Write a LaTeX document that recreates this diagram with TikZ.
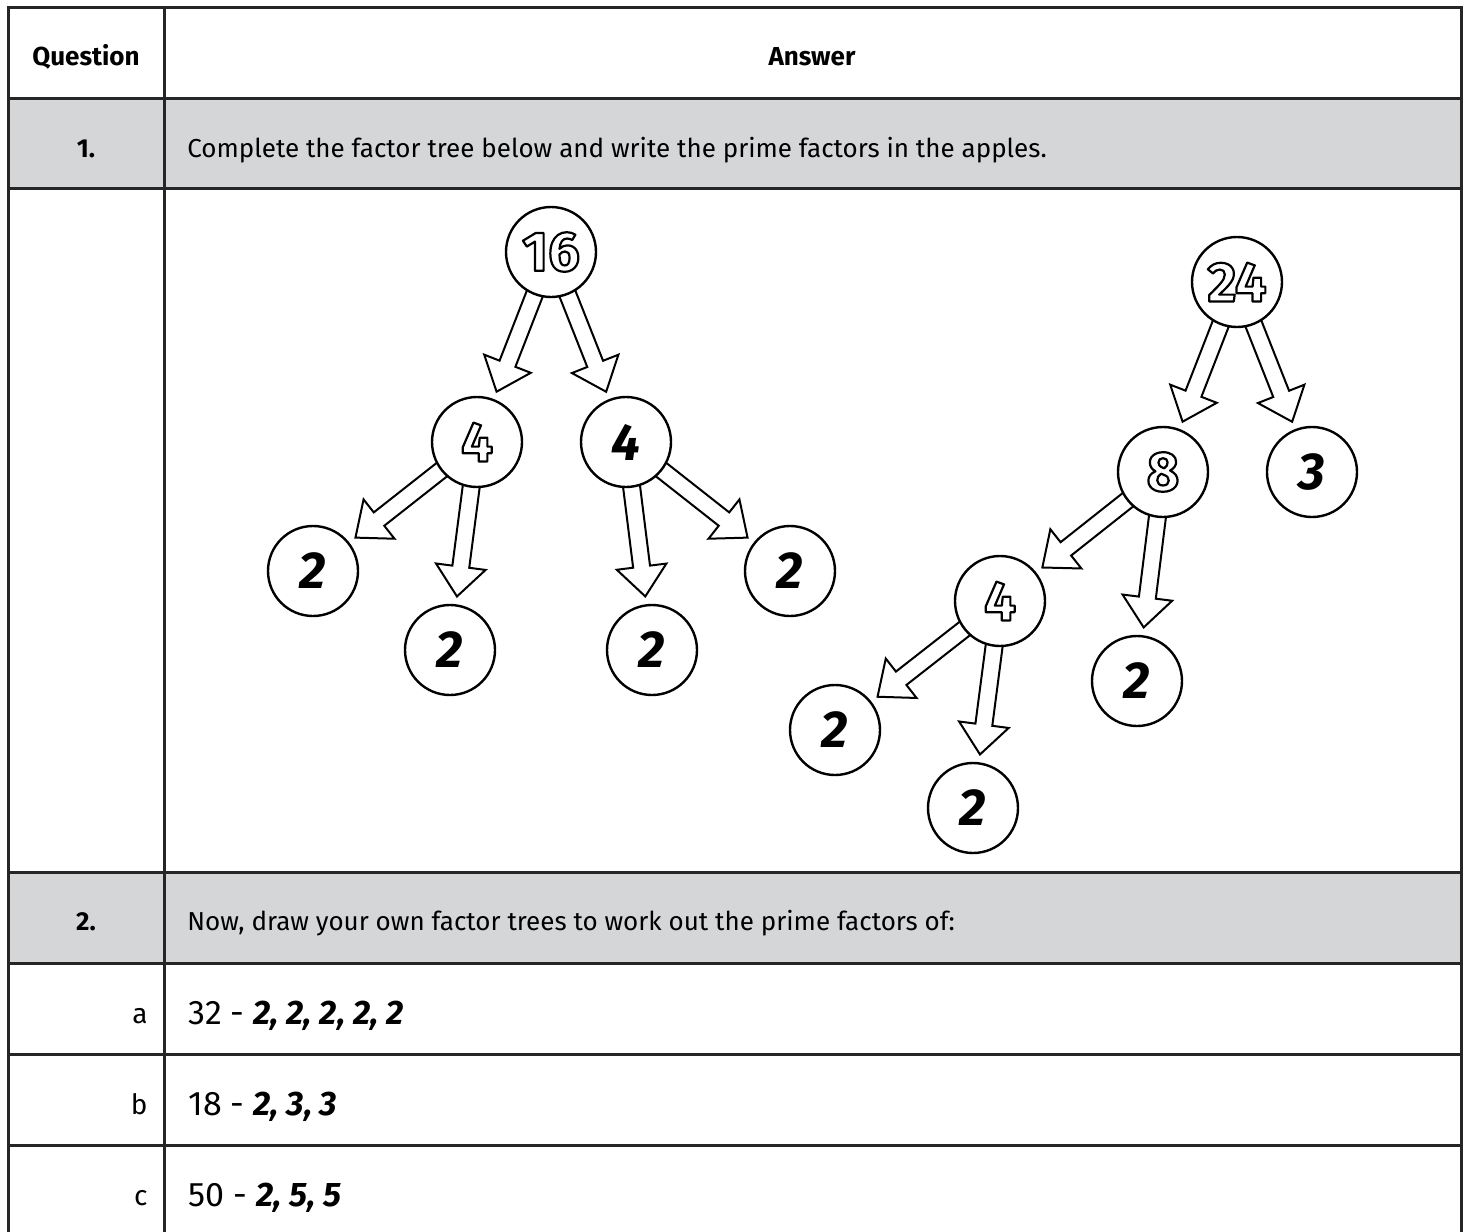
\documentclass[tikz,border=0pt]{standalone}
\usepackage{fontspec}
\setmainfont{Fira Sans}
\usetikzlibrary{calc}
\definecolor{rowgrey}{HTML}{D5D6D8}
\definecolor{rule}{HTML}{262626}
\newcommand{\hollow}[1]{{\upshape\bfseries\fontsize{28}{28}\selectfont
  \special{pdf:literal direct 2 Tr 1.1 w 1 j 1 g 0 G}#1\special{pdf:literal direct 0 Tr 0 g}}}
\begin{document}
\begin{tikzpicture}[x=0.5pt,y=-0.5pt,
  apple/.style={draw, circle, line width=1.2pt, minimum size=45pt, inner sep=0pt,
    font=\fontsize{26}{26}\selectfont\bfseries\itshape},
  blockarrow/.style={draw, line width=1pt, line join=miter, to path={
    let \p1=($(\tikztostart)!22pt!(\tikztotarget)$),
        \p2=($(\tikztotarget)!27pt!(\tikztostart)$),
        \p3=($(\p2)!15pt!(\p1)$) in
    ($(\p1)!4.25pt!90:(\p2)$) -- ($(\p3)!4.25pt!90:(\p2)$) -- ($(\p3)!12.5pt!90:(\p2)$)
    -- (\p2) -- ($(\p3)!12.5pt!-90:(\p2)$) -- ($(\p3)!4.25pt!-90:(\p2)$)
    -- ($(\p1)!4.25pt!-90:(\p2)$)}},
  grid/.style={draw=rule, line width=1.5pt},
  celltext/.style={anchor=base west, inner sep=0pt, font=\fontsize{13}{15}\selectfont},
  headtext/.style={anchor=base, inner sep=0pt, font=\fontsize{13}{15}\selectfont\bfseries},
  rowtext/.style={anchor=base west, inner sep=0pt, font=\fontsize{17}{19}\selectfont},
  rowlabel/.style={anchor=base east, inner sep=0pt, font=\fontsize{14}{16}\selectfont}]
\useasboundingbox (0,0) rectangle (1469,1232);

% table
\fill[rowgrey] (8,98) rectangle (1461,188);
\fill[rowgrey] (8,872) rectangle (1461,963);
\path[grid] (8,1232) -- (8,7) -- (1461,7) -- (1461,1232);
\path[grid] (164,7) -- (164,1232);
\foreach \y in {98,188,872,963,1054,1145}
  \path[grid] (8,\y) -- (1461,\y);

\node[headtext] (qhead) at (86,65) {Question};
\node[headtext] (ahead) at (812,65) {Answer};
\node[headtext] (q1) at (86,157) {1.};
\node[celltext] (t1) at (187,157) {Complete the factor tree below and write the prime factors in the apples.};
\node[headtext] (q2) at (86,930) {2.};
\node[celltext] (t2) at (187,930) {Now, draw your own factor trees to work out the prime factors of:};
\node[rowlabel] (la) at (148,1023) {a};
\node[rowtext] (ra) at (188,1024) {32 - \textbf{\textit{2, 2, 2, 2, 2}}};
\node[rowlabel] (lb) at (148,1114) {b};
\node[rowtext] (rb) at (188,1115) {18 - \textbf{\textit{2, 3, 3}}};
\node[rowlabel] (lc) at (148,1205) {c};
\node[rowtext] (rc) at (188,1206) {50 - \textbf{\textit{2, 5, 5}}};

% tree of 16
\node[apple] (16) at (551,252) {\hollow{16}};
\node[apple] (4l) at (477,442) {\hollow{4}};
\node[apple] (4r) at (626,442) {4};
\node[apple] (2a) at (313,571) {2};
\node[apple] (2b) at (450,650) {2};
\node[apple] (2c) at (652,650) {2};
\node[apple] (2d) at (790,571) {2};

% tree of 24
\node[apple] (24) at (1237,282) {\hollow{24}};
\node[apple] (8) at (1163,472) {\hollow{8}};
\node[apple] (3) at (1312,472) {3};
\node[apple] (4m) at (1000,601) {\hollow{4}};
\node[apple] (2e) at (1137,681) {2};
\node[apple] (2f) at (835,730) {2};
\node[apple] (2g) at (973,808) {2};

\path[blockarrow] (16) to (4l);
\path[blockarrow] (16) to (4r);
\path[blockarrow] (4l) to (2a);
\path[blockarrow] (4l) to (2b);
\path[blockarrow] (4r) to (2c);
\path[blockarrow] (4r) to (2d);
\path[blockarrow] (24) to (8);
\path[blockarrow] (24) to (3);
\path[blockarrow] (8) to (4m);
\path[blockarrow] (8) to (2e);
\path[blockarrow] (4m) to (2f);
\path[blockarrow] (4m) to (2g);
\end{tikzpicture}
\end{document}
